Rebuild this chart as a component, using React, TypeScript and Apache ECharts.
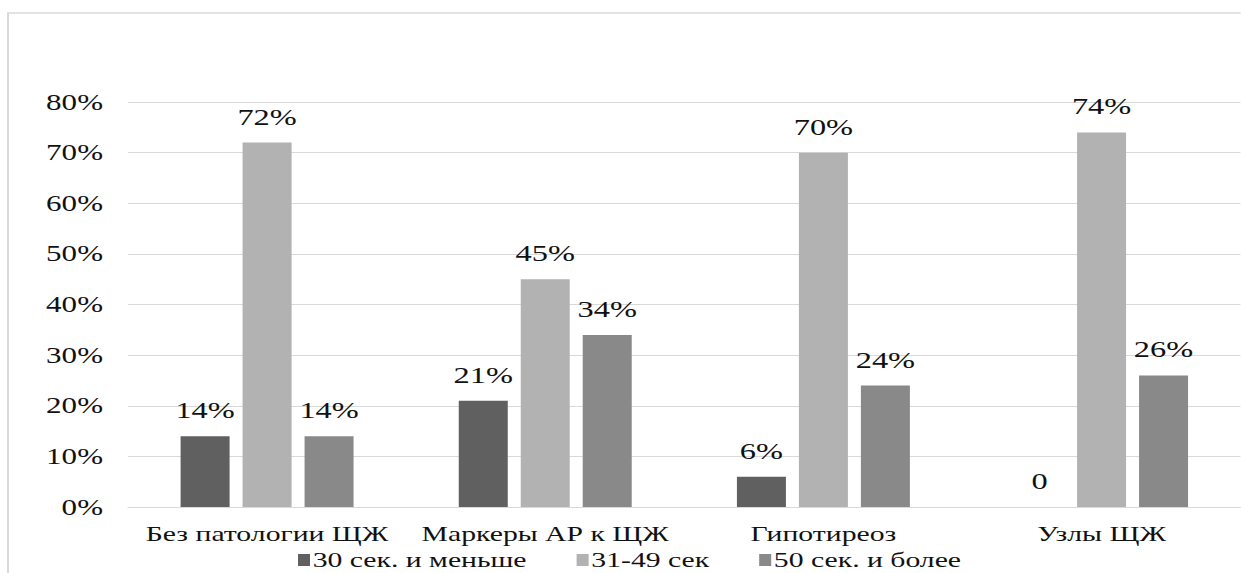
import React, { useEffect, useRef } from "react";
import * as echarts from "echarts";

const categories = ["Без патологии ЩЖ", "Маркеры АР к ЩЖ", "Гипотиреоз", "Узлы ЩЖ"];
const seriesNames = ["30 сек. и меньше", "31-49 сек", "50 сек. и более"];
const s30 = [14, 21, 6, 0];
const s31_49 = [72, 45, 70, 74];
const s50 = [14, 34, 24, 26];
const colors = ["#606060", "#b2b2b2", "#898989"];

const K = 1.35; // horizontal stretch of the reference picture
const W = 1241 / K;
const FONT = "Liberation Serif, Times New Roman, DejaVu Serif, serif";

export default function App() {
  const ref = useRef<HTMLDivElement>(null);
  useEffect(() => {
    document.body.style.overflow = "hidden";
    const chart = echarts.init(ref.current!, undefined, { renderer: "svg" });
    const label = {
      show: true,
      position: "top" as const,
      distance: 14,
      color: "#111",
      fontFamily: FONT,
      fontSize: 24,
      formatter: (p: any) => (p.value === 0 ? "0" : p.value + "%"),
    };
    const data = [s30, s31_49, s50];
    chart.setOption({
      animation: false,
      backgroundColor: "#ffffff",
      textStyle: { fontFamily: FONT },
      graphic: [
        {
          type: "rect",
          shape: { x: 8 / K, y: 13, width: 2000, height: 1000 },
          style: { fill: "none", stroke: "#d9d9d9", lineWidth: 1.5 },
          silent: true,
        },
      ],
      grid: { left: 128 / K, top: 102, width: 1124 / K, height: 405, containLabel: false },
      legend: {
        left: 298 / K,
        top: 549,
        padding: 0,
        itemWidth: 12 / K,
        itemHeight: 12,
        itemGap: 50 / K,
        icon: "rect",
        data: seriesNames,
        textStyle: { fontFamily: FONT, fontSize: 22, lineHeight: 18, color: "#111", padding: [0, 0, 0, -3] },
      },
      xAxis: {
        type: "category",
        data: categories,
        axisLine: { lineStyle: { color: "#d9d9d9", width: 1 } },
        axisTick: { show: false },
        axisLabel: { color: "#111", fontFamily: FONT, fontSize: 22, margin: 16, interval: 0 },
      },
      yAxis: {
        type: "value",
        min: 0,
        max: 80,
        interval: 10,
        axisLine: { show: false },
        axisTick: { show: false },
        splitLine: { lineStyle: { color: "#d9d9d9", width: 1 } },
        axisLabel: {
          color: "#111",
          fontFamily: FONT,
          fontSize: 23,
          margin: 25 / K,
          formatter: (v: number) => v + "%",
        },
      },
      series: seriesNames.map((name, i) => ({
        name,
        type: "bar",
        data: data[i],
        barWidth: 49 / K,
        barGap: "26.5%",
        itemStyle: { color: colors[i] },
        label,
      })),
    });
    return () => chart.dispose();
  }, []);
  return (
    <div
      ref={ref}
      style={{
        position: "absolute",
        left: 0,
        top: 0,
        width: W,
        height: 573,
        transform: `scaleX(${K})`,
        transformOrigin: "0 0",
      }}
    />
  );
}
